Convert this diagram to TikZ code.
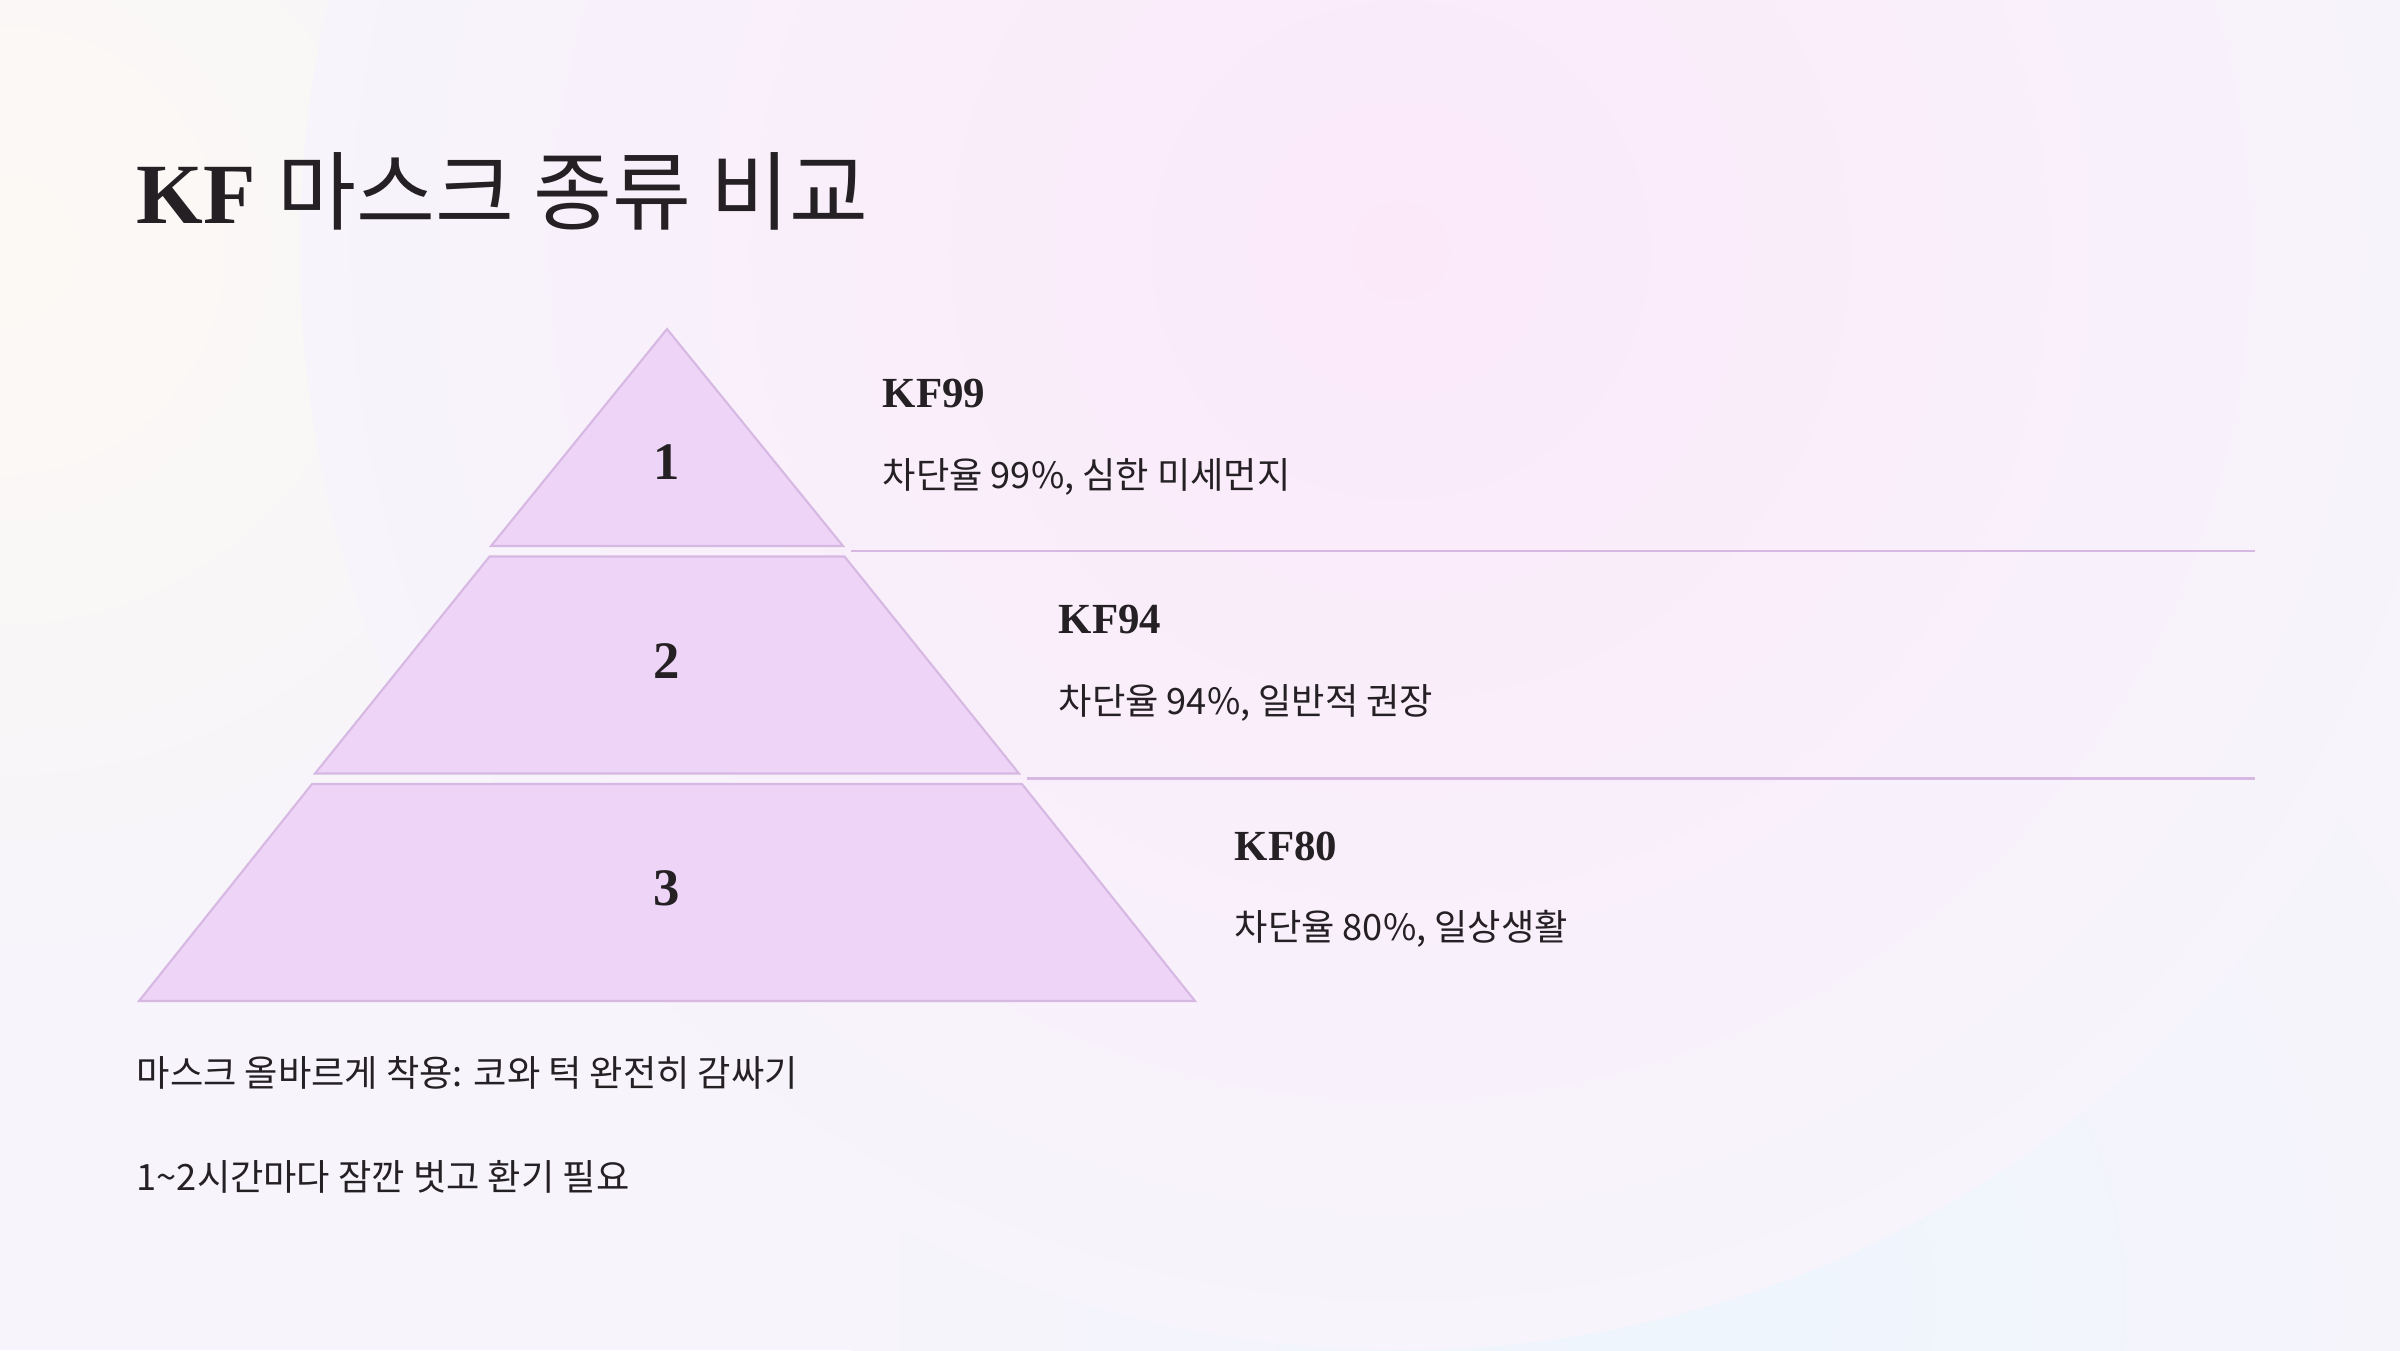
\documentclass[tikz,border=0pt]{standalone}
\usepackage{fontspec}
\setmainfont{Liberation Serif}
\newfontfamily\krfont{Noto Sans CJK KR}
\usetikzlibrary{calc}

\definecolor{bgbase}{RGB}{247,244,251}
\definecolor{bgpink}{RGB}{251,233,250}
\definecolor{bgcream}{RGB}{252,249,244}
\definecolor{bgblue}{RGB}{238,245,253}
\definecolor{tierfill}{RGB}{238,213,247}
\definecolor{tierline}{RGB}{214,184,226}
\definecolor{inkdark}{RGB}{36,32,36}

\newcommand\titlesize{\fontsize{24.4}{29}\selectfont}
\newcommand\headsize{\fontsize{12.2}{15}\selectfont}
\newcommand\bodysize{\fontsize{10.3}{12}\selectfont}
\newcommand\numsize{\fontsize{15}{18}\selectfont}

\begin{document}
\begin{tikzpicture}[x=0.01cm, y=-0.01cm, every node/.style={text=inkdark, inner sep=0pt},
  tier/.style={fill=tierfill, draw=tierline, line width=0.6pt},
  sepline/.style={draw=tierline, line width=0.6pt},
  numtext/.style={font=\numsize\bfseries},
  headtext/.style={font=\headsize\bfseries, anchor=west},
  bodytext/.style={font=\bodysize\krfont, anchor=west}]
% background
\useasboundingbox (0,0) rectangle (2400,1350);
\fill[bgbase] (0,0) rectangle (2400,1350);
\begin{scope}
  \clip (0,0) rectangle (2400,1350);
  \shade[inner color=bgcream, outer color=bgbase] (0,250) circle (750);
  \shade[inner color=bgblue, outer color=bgbase] (1700,1300) circle (850);
  \shade[inner color=bgpink, outer color=bgbase] (1400,250) circle (1100);
\end{scope}

\node[anchor=west] (title) at (136,191) {\titlesize{\bfseries KF} {\krfont 마스크 종류 비교}};

% pyramid tiers
\foreach \k/\ny/\name/\desc in {1/462/KF99/{차단율 99\%, 심한 미세먼지},
                                 2/661/KF94/{차단율 94\%, 일반적 권장},
                                 3/888/KF80/{차단율 80\%, 일상생활}} {
  \pgfmathsetmacro\ytop{329+227.5*(\k-1)}
  \pgfmathsetmacro\ybot{\ytop+217}
  \pgfmathsetmacro\wtop{177.5*(\k-1)}
  \pgfmathsetmacro\wbot{176*\k}
  \pgfmathsetmacro\xlab{667+\wbot+39}
  \pgfmathsetmacro\yhead{393+226.5*(\k-1)}
  \pgfmathsetmacro\ydesc{477+226*(\k-1)}
  \draw[tier] (667-\wtop,\ytop) -- (667+\wtop,\ytop) -- (667+\wbot,\ybot) -- (667-\wbot,\ybot) -- cycle;
  \node[numtext] (num\k) at (667,\ny) {\k};
  \node[headtext] (head\k) at (\xlab,\yhead) {\name};
  \node[bodytext] (desc\k) at (\xlab,\ydesc) {\desc};
  \ifnum\k<3
    \coordinate (sepL\k) at (667+\wbot+8, \ybot+5);
    \coordinate (sepR\k) at (2255, \ybot+5);
    \draw[sepline] (sepL\k) -- (sepR\k);
  \fi
}

\node[bodytext] (tip1) at (136,1073) {마스크 올바르게 착용: 코와 턱 완전히 감싸기};
\node[bodytext] (tip2) at (136,1177) {1\textasciitilde 2시간마다 잠깐 벗고 환기 필요};
\end{tikzpicture}
\end{document}
